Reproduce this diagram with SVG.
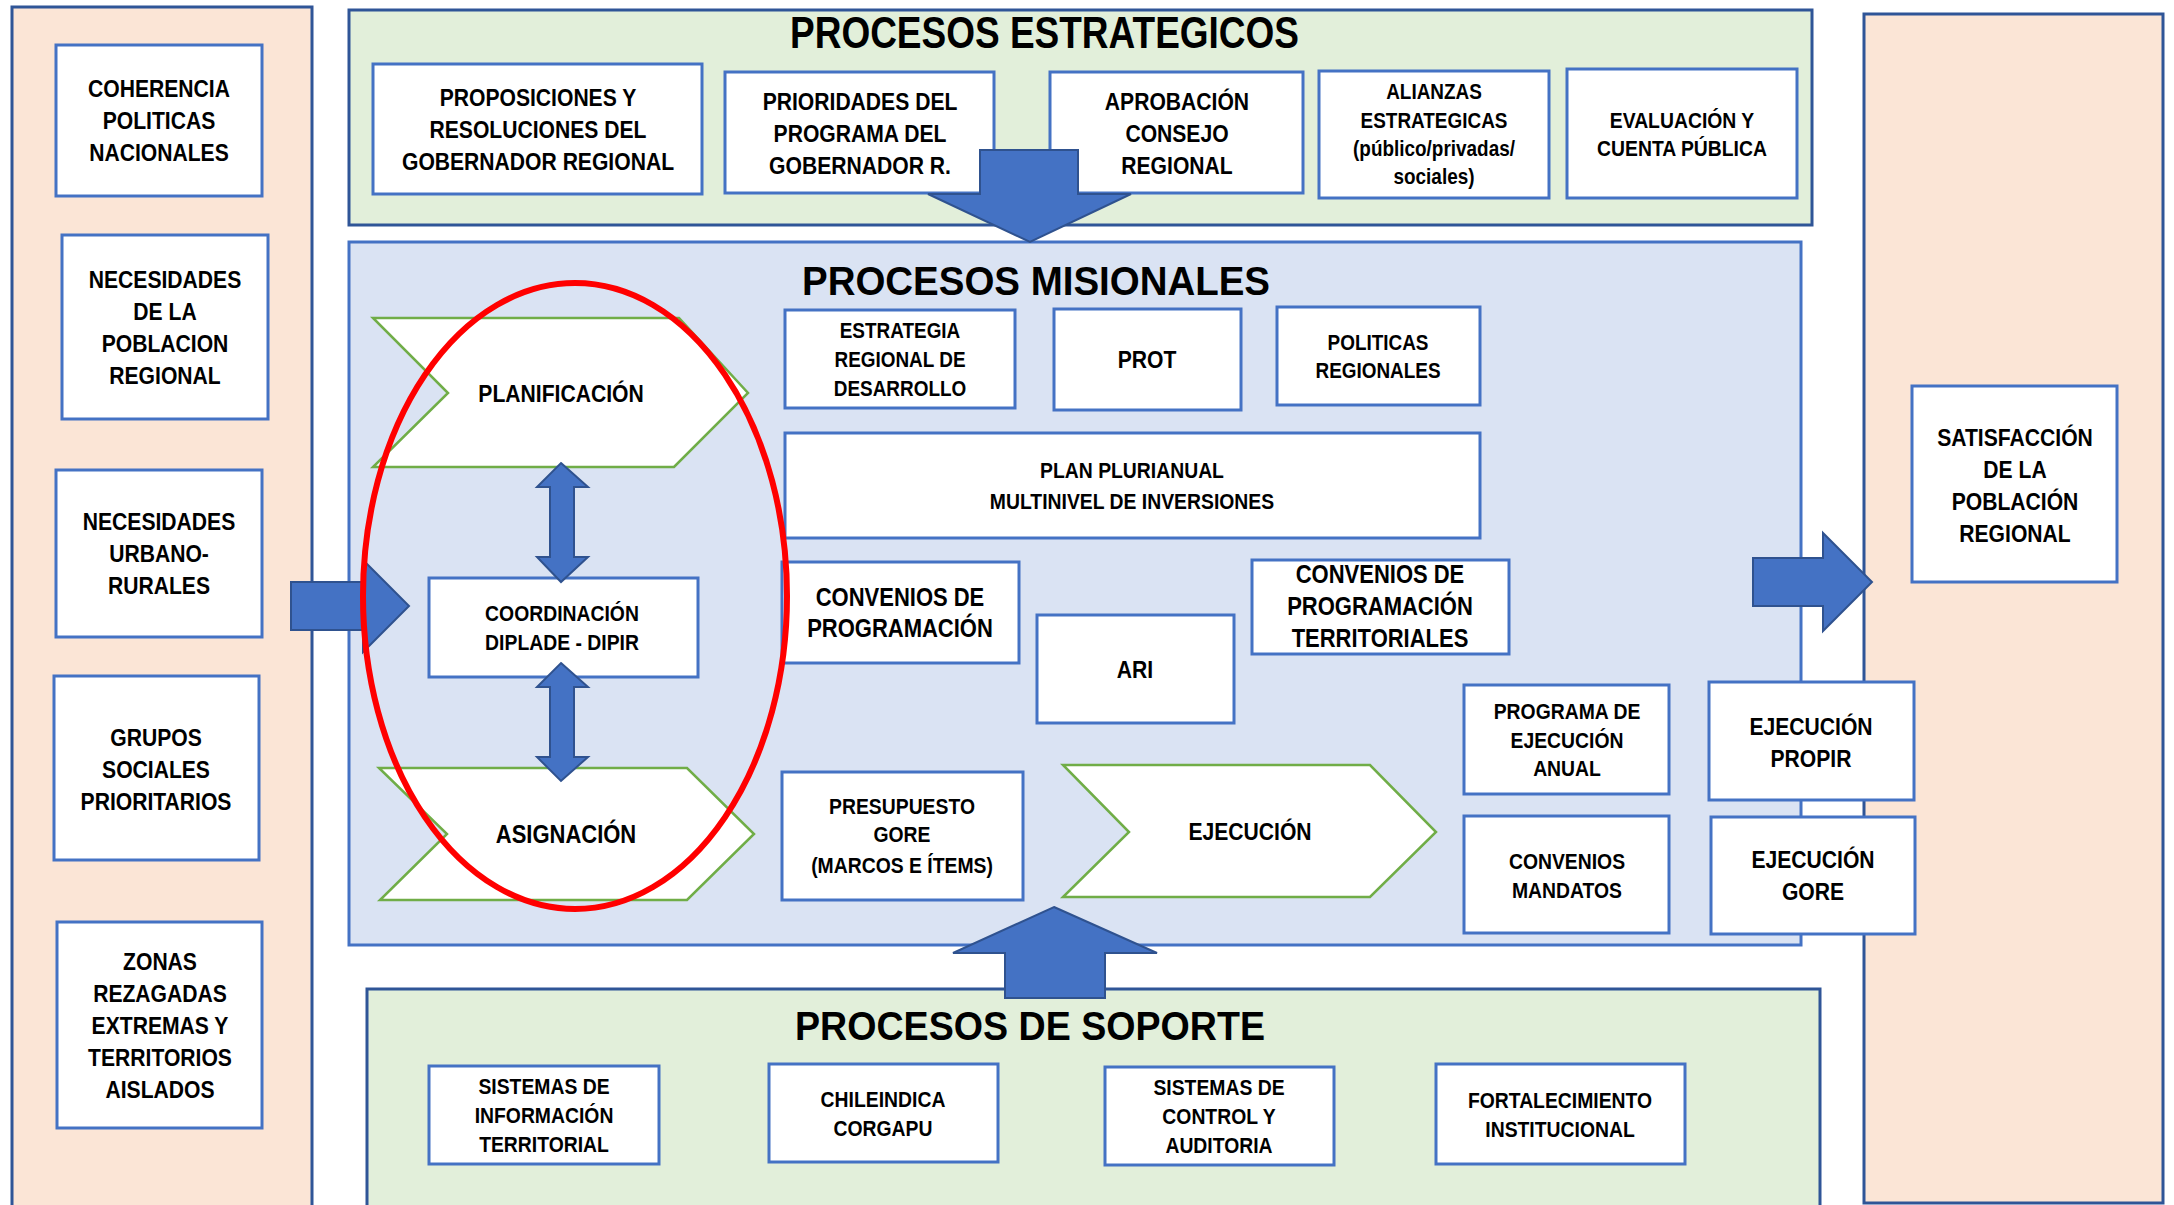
<svg xmlns="http://www.w3.org/2000/svg" width="2174" height="1205" viewBox="0 0 2174 1205">
<style>
.panelS{fill:#FBE5D6;stroke:#2F5597;stroke-width:3}
.panelG{fill:#E2EFDA;stroke:#2F5597;stroke-width:3}
.panelB{fill:#DAE3F3;stroke:#4472C4;stroke-width:3}
.b{fill:#fff;stroke:#4472C4;stroke-width:3}
.chev{fill:#fff;stroke:#70AD47;stroke-width:2.5}
.arr{fill:#4472C4;stroke:#2F528F;stroke-width:2}
.t{font-family:"Liberation Sans",Arial,sans-serif;font-weight:700;fill:#000;text-anchor:middle}
.ti{font-family:"Liberation Sans",Arial,sans-serif;font-weight:700;fill:#000}
.f24{font-size:24px}.f22{font-size:22px}.f21{font-size:21.5px}.f25{font-size:25px}
</style>
<rect width="2174" height="1205" fill="#fff"/>
<g id="panels">
<rect id="panel-left" class="panelS" x="12" y="7" width="300" height="1215"/>
<rect id="panel-right" class="panelS" x="1864" y="14" width="299" height="1189"/>
<rect id="panel-estrategicos" class="panelG" x="349" y="10" width="1463" height="215"/>
<rect id="panel-misionales" class="panelB" x="349" y="242" width="1452" height="703"/>
<rect id="panel-soporte" class="panelG" x="367" y="989" width="1453" height="240"/>
<text class="ti" x="790" y="48" font-size="44" textLength="509" lengthAdjust="spacingAndGlyphs">PROCESOS ESTRATEGICOS</text>
<text class="ti" x="802" y="295" font-size="40" textLength="468" lengthAdjust="spacingAndGlyphs">PROCESOS MISIONALES</text>
<text class="ti" x="795" y="1040" font-size="40" textLength="470" lengthAdjust="spacingAndGlyphs">PROCESOS DE SOPORTE</text>
</g>

<g id="n-coherencia"><rect class="b" x="56" y="45" width="206" height="151"/>
<text class="t f24" transform="matrix(0.88 0 0 1 159 0)"><tspan x="0" y="97">COHERENCIA</tspan><tspan x="0" y="129">POLITICAS</tspan><tspan x="0" y="161">NACIONALES</tspan></text></g>
<g id="n-necesidades-poblacion"><rect class="b" x="62" y="235" width="206" height="184"/>
<text class="t f24" transform="matrix(0.88 0 0 1 165 0)"><tspan x="0" y="288">NECESIDADES</tspan><tspan x="0" y="320">DE LA</tspan><tspan x="0" y="352">POBLACION</tspan><tspan x="0" y="384">REGIONAL</tspan></text></g>
<g id="n-urbano-rurales"><rect class="b" x="56" y="470" width="206" height="167"/>
<text class="t f24" transform="matrix(0.88 0 0 1 159 0)"><tspan x="0" y="530">NECESIDADES</tspan><tspan x="0" y="562">URBANO-</tspan><tspan x="0" y="594">RURALES</tspan></text></g>
<g id="n-grupos"><rect class="b" x="54" y="676" width="205" height="184"/>
<text class="t f24" transform="matrix(0.88 0 0 1 156 0)"><tspan x="0" y="746">GRUPOS</tspan><tspan x="0" y="778">SOCIALES</tspan><tspan x="0" y="810">PRIORITARIOS</tspan></text></g>
<g id="n-zonas"><rect class="b" x="57" y="922" width="205" height="206"/>
<text class="t f24" transform="matrix(0.88 0 0 1 160 0)"><tspan x="0" y="970">ZONAS</tspan><tspan x="0" y="1002">REZAGADAS</tspan><tspan x="0" y="1034">EXTREMAS Y</tspan><tspan x="0" y="1066">TERRITORIOS</tspan><tspan x="0" y="1098">AISLADOS</tspan></text></g>

<g id="n-proposiciones"><rect class="b" x="373" y="64" width="329" height="130"/>
<text class="t f24" transform="matrix(0.88 0 0 1 538 0)"><tspan x="0" y="106">PROPOSICIONES Y</tspan><tspan x="0" y="138">RESOLUCIONES DEL</tspan><tspan x="0" y="170">GOBERNADOR REGIONAL</tspan></text></g>
<g id="n-prioridades"><rect class="b" x="725" y="72" width="269" height="121"/>
<text class="t f24" transform="matrix(0.88 0 0 1 860 0)"><tspan x="0" y="110">PRIORIDADES DEL</tspan><tspan x="0" y="142">PROGRAMA DEL</tspan><tspan x="0" y="174">GOBERNADOR R.</tspan></text></g>
<g id="n-aprobacion"><rect class="b" x="1050" y="72" width="253" height="121"/>
<text class="t f24" transform="matrix(0.88 0 0 1 1177 0)"><tspan x="0" y="110">APROBACIÓN</tspan><tspan x="0" y="142">CONSEJO</tspan><tspan x="0" y="174">REGIONAL</tspan></text></g>
<g id="n-alianzas"><rect class="b" x="1319" y="71" width="230" height="127"/>
<text class="t f21" transform="matrix(0.88 0 0 1 1434 0)"><tspan x="0" y="99">ALIANZAS</tspan><tspan x="0" y="128">ESTRATEGICAS</tspan><tspan x="0" y="156">(público/privadas/</tspan><tspan x="0" y="184">sociales)</tspan></text></g>
<g id="n-evaluacion"><rect class="b" x="1567" y="69" width="230" height="129"/>
<text class="t f22" transform="matrix(0.88 0 0 1 1682 0)"><tspan x="0" y="128">EVALUACIÓN Y</tspan><tspan x="0" y="156">CUENTA PÚBLICA</tspan></text></g>

<g id="n-planificacion"><polygon class="chev" points="373,318 679,318 748,393 674,467 373,467 448,393"/>
<text class="t f24" transform="matrix(0.88 0 0 1 561 0)"><tspan x="0" y="402">PLANIFICACIÓN</tspan></text></g>
<g id="n-asignacion"><polygon class="chev" points="379,768 687,768 754,834 687,900 380,900 447,834"/>
<text class="t f25" transform="matrix(0.88 0 0 1 566 0)"><tspan x="0" y="843">ASIGNACIÓN</tspan></text></g>
<g id="n-coordinacion"><rect class="b" x="429" y="578" width="269" height="99"/>
<text class="t f22" transform="matrix(0.88 0 0 1 562 0)"><tspan x="0" y="621">COORDINACIÓN</tspan><tspan x="0" y="650">DIPLADE - DIPIR</tspan></text></g>
<g id="n-estrategia"><rect class="b" x="785" y="310" width="230" height="98"/>
<text class="t f21" transform="matrix(0.88 0 0 1 900 0)"><tspan x="0" y="338">ESTRATEGIA</tspan><tspan x="0" y="367">REGIONAL DE</tspan><tspan x="0" y="396">DESARROLLO</tspan></text></g>
<g id="n-prot"><rect class="b" x="1054" y="309" width="187" height="101"/>
<text class="t f24" transform="matrix(0.88 0 0 1 1147 0)"><tspan x="0" y="368">PROT</tspan></text></g>
<g id="n-politicas"><rect class="b" x="1277" y="307" width="203" height="98"/>
<text class="t f21" transform="matrix(0.88 0 0 1 1378 0)"><tspan x="0" y="350">POLITICAS</tspan><tspan x="0" y="378">REGIONALES</tspan></text></g>
<g id="n-plan"><rect class="b" x="785" y="433" width="695" height="105"/>
<text class="t f22" transform="matrix(0.88 0 0 1 1132 0)"><tspan x="0" y="478">PLAN PLURIANUAL</tspan><tspan x="0" y="509">MULTINIVEL DE INVERSIONES</tspan></text></g>
<g id="n-convenios-prog"><rect class="b" x="782" y="562" width="237" height="101"/>
<text class="t f25" transform="matrix(0.88 0 0 1 900 0)"><tspan x="0" y="606">CONVENIOS DE</tspan><tspan x="0" y="637">PROGRAMACIÓN</tspan></text></g>
<g id="n-ari"><rect class="b" x="1037" y="615" width="197" height="108"/>
<text class="t f24" transform="matrix(0.88 0 0 1 1135 0)"><tspan x="0" y="678">ARI</tspan></text></g>
<g id="n-convenios-terr"><rect class="b" x="1252" y="560" width="257" height="94"/>
<text class="t f25" transform="matrix(0.88 0 0 1 1380 0)"><tspan x="0" y="583">CONVENIOS DE</tspan><tspan x="0" y="615">PROGRAMACIÓN</tspan><tspan x="0" y="647">TERRITORIALES</tspan></text></g>
<g id="n-presupuesto"><rect class="b" x="782" y="772" width="241" height="128"/>
<text class="t f22" transform="matrix(0.88 0 0 1 902 0)"><tspan x="0" y="814">PRESUPUESTO</tspan><tspan x="0" y="842">GORE</tspan><tspan x="0" y="873">(MARCOS E ÍTEMS)</tspan></text></g>
<g id="n-ejecucion"><polygon class="chev" points="1063,765 1370,765 1436,832 1370,897 1063,897 1129,832"/>
<text class="t f24" transform="matrix(0.88 0 0 1 1250 0)"><tspan x="0" y="840">EJECUCIÓN</tspan></text></g>
<g id="n-programa-anual"><rect class="b" x="1464" y="685" width="205" height="109"/>
<text class="t f22" transform="matrix(0.88 0 0 1 1567 0)"><tspan x="0" y="719">PROGRAMA DE</tspan><tspan x="0" y="748">EJECUCIÓN</tspan><tspan x="0" y="776">ANUAL</tspan></text></g>
<g id="n-convenios-mandatos"><rect class="b" x="1464" y="816" width="205" height="117"/>
<text class="t f22" transform="matrix(0.88 0 0 1 1567 0)"><tspan x="0" y="869">CONVENIOS</tspan><tspan x="0" y="898">MANDATOS</tspan></text></g>
<g id="n-ejecucion-propir"><rect class="b" x="1709" y="682" width="205" height="118"/>
<text class="t f24" transform="matrix(0.88 0 0 1 1811 0)"><tspan x="0" y="735">EJECUCIÓN</tspan><tspan x="0" y="767">PROPIR</tspan></text></g>
<g id="n-ejecucion-gore"><rect class="b" x="1711" y="817" width="204" height="117"/>
<text class="t f24" transform="matrix(0.88 0 0 1 1813 0)"><tspan x="0" y="868">EJECUCIÓN</tspan><tspan x="0" y="900">GORE</tspan></text></g>
<g id="n-satisfaccion"><rect class="b" x="1912" y="386" width="205" height="196"/>
<text class="t f24" transform="matrix(0.88 0 0 1 2015 0)"><tspan x="0" y="446">SATISFACCIÓN</tspan><tspan x="0" y="478">DE LA</tspan><tspan x="0" y="510">POBLACIÓN</tspan><tspan x="0" y="542">REGIONAL</tspan></text></g>

<g id="n-sistemas-info"><rect class="b" x="429" y="1066" width="230" height="98"/>
<text class="t f22" transform="matrix(0.88 0 0 1 544 0)"><tspan x="0" y="1094">SISTEMAS DE</tspan><tspan x="0" y="1123">INFORMACIÓN</tspan><tspan x="0" y="1152">TERRITORIAL</tspan></text></g>
<g id="n-chileindica"><rect class="b" x="769" y="1064" width="229" height="98"/>
<text class="t f22" transform="matrix(0.88 0 0 1 883 0)"><tspan x="0" y="1107">CHILEINDICA</tspan><tspan x="0" y="1136">CORGAPU</tspan></text></g>
<g id="n-sistemas-control"><rect class="b" x="1105" y="1067" width="229" height="98"/>
<text class="t f22" transform="matrix(0.88 0 0 1 1219 0)"><tspan x="0" y="1095">SISTEMAS DE</tspan><tspan x="0" y="1124">CONTROL Y</tspan><tspan x="0" y="1153">AUDITORIA</tspan></text></g>
<g id="n-fortalecimiento"><rect class="b" x="1436" y="1064" width="249" height="100"/>
<text class="t f22" transform="matrix(0.88 0 0 1 1560 0)"><tspan x="0" y="1108">FORTALECIMIENTO</tspan><tspan x="0" y="1137">INSTITUCIONAL</tspan></text></g>

<g id="connectors">
<polygon class="arr" points="980,150 1078,150 1078,194 1131,194 1030,242 928,194 980,194"/>
<polygon class="arr" points="1054,907 1157,953 1105,953 1105,998 1005,998 1005,953 953,953"/>
<polygon class="arr" points="1753,558 1823,558 1823,533 1872,582 1823,631 1823,606 1753,606"/>
<polygon class="arr" points="291,582 363,582 363,560 409,606 363,652 363,630 291,630"/>
<polygon class="arr" points="561,463 588,487 574,487 574,557 588,557 561,582 537,557 550,557 550,487 537,487"/>
<polygon class="arr" points="561,663 588,687 574,687 574,757 588,757 561,781 537,757 550,757 550,687 537,687"/>
<ellipse cx="575" cy="596" rx="212" ry="313" fill="none" stroke="#FF0000" stroke-width="6"/>
</g>
</svg>
